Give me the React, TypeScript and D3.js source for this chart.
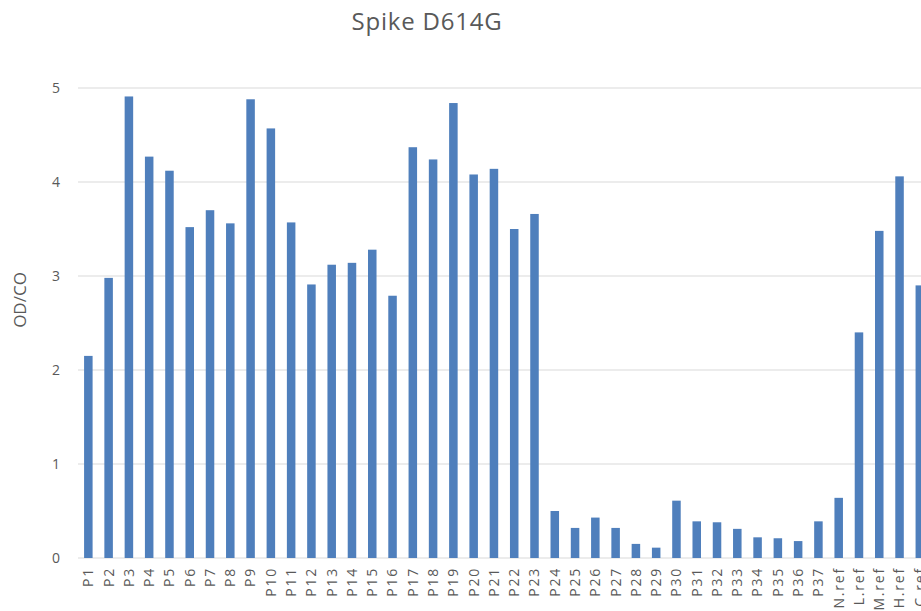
import React from "react";
import * as d3 from "d3";

const categories = [
  "P1","P2","P3","P4","P5","P6","P7","P8","P9","P10",
  "P11","P12","P13","P14","P15","P16","P17","P18","P19","P20",
  "P21","P22","P23","P24","P25","P26","P27","P28","P29","P30",
  "P31","P32","P33","P34","P35","P36","P37","N.ref","L.ref","M.ref","H.ref","C.ref",
];
const values = [
  2.15, 2.98, 4.91, 4.27, 4.12, 3.52, 3.70, 3.56, 4.88, 4.57,
  3.57, 2.91, 3.12, 3.14, 3.28, 2.79, 4.37, 4.24, 4.84, 4.08,
  4.14, 3.50, 3.66, 0.50, 0.32, 0.43, 0.32, 0.15, 0.11, 0.61,
  0.39, 0.38, 0.31, 0.22, 0.21, 0.18, 0.39, 0.64, 2.40, 3.48, 4.06, 2.90,
];
const yTicks = [0, 1, 2, 3, 4, 5];
const title = "Spike D614G";
const yTitle = "OD/CO";

const W = 921;
const H = 611;
const FONT = "'Open Sans', 'Liberation Sans', sans-serif";
const TEXT = "#595959";

export default function App() {
  const x = d3
    .scaleBand<string>()
    .domain(categories)
    .range([78.2, 78.2 + 20.28 * categories.length])
    .paddingInner(0.58)
    .paddingOuter(0.29);
  const y = d3.scaleLinear().domain([0, 5]).range([558, 88]);

  return (
    <svg
      width={W}
      height={H}
      style={{ position: "absolute", left: 0, top: 0, background: "#fff" }}
      fontFamily={FONT}
    >
      <rect x={0} y={0} width={W} height={H} fill="#fff" />
      <text x={427} y={30} textAnchor="middle" fontSize={24} fill={TEXT} letterSpacing={0.8}>
        {title}
      </text>
      {yTicks.map((t) => (
        <g key={t}>
          <line x1={78} x2={W} y1={y(t)} y2={y(t)} stroke="#d9d9d9" strokeWidth={1} />
          <text x={60} y={y(t)} dy="0.35em" textAnchor="end" fontSize={14} fill={TEXT}>
            {t}
          </text>
        </g>
      ))}
      <text
        transform={`translate(20, 300) rotate(-90)`}
        textAnchor="middle"
        dy="0.35em"
        fontSize={17}
        fill={TEXT}
      >
        {yTitle}
      </text>
      {categories.map((c, i) => (
        <rect
          key={c}
          x={x(c)}
          y={y(values[i])}
          width={x.bandwidth()}
          height={y(0) - y(values[i])}
          fill="#4f7fbc"
        />
      ))}
      {categories.map((c) => (
        <text
          key={c}
          transform={`translate(${(x(c) as number) + x.bandwidth() / 2}, 567) rotate(-90)`}
          textAnchor="end"
          dy="0.35em"
          fontSize={14}
          letterSpacing={1.8}
          fill={TEXT}
        >
          {c}
        </text>
      ))}
    </svg>
  );
}
